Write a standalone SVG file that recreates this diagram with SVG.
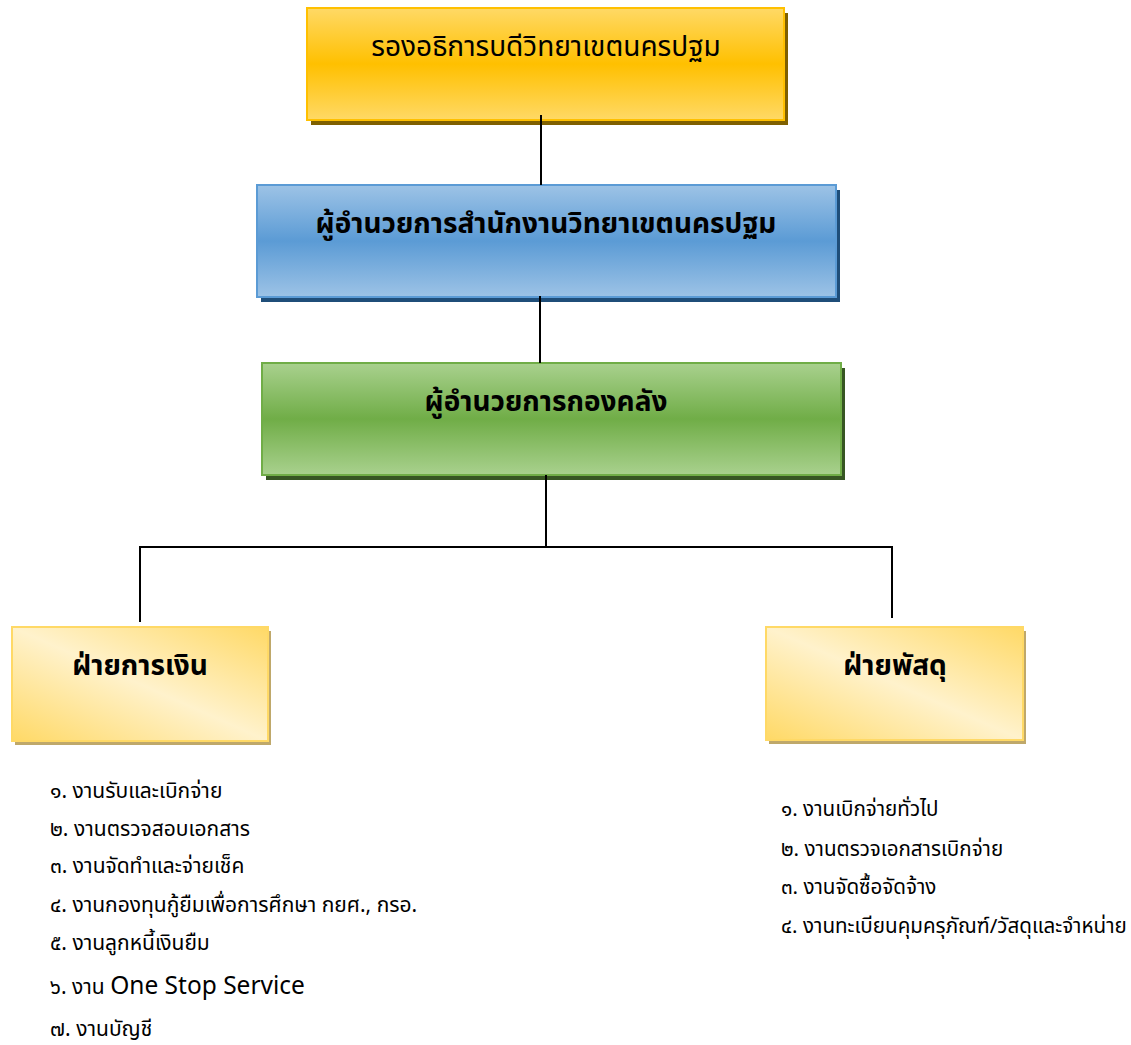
<svg xmlns="http://www.w3.org/2000/svg" width="1131" height="1045" viewBox="0 0 1131 1045">
<style>
.t{font-family:"Noto Sans","Noto Sans Thai","DejaVu Sans",sans-serif;fill:#000}
.h{font-size:28px;text-anchor:middle}
.b{font-weight:bold}
.li{font-size:21px}
.li2{font-size:20.6px}
.con line{stroke:#000;stroke-width:2}
</style>
<defs>
<linearGradient id="gy" x1="0" y1="0" x2="0" y2="1">
<stop offset="0" stop-color="#ffd966"/><stop offset="0.5" stop-color="#ffc000"/><stop offset="1" stop-color="#ffd966"/>
</linearGradient>
<linearGradient id="gb" x1="0" y1="0" x2="0" y2="1">
<stop offset="0" stop-color="#9dc3e6"/><stop offset="0.5" stop-color="#5b9bd5"/><stop offset="1" stop-color="#9dc3e6"/>
</linearGradient>
<linearGradient id="gg" x1="0" y1="0" x2="0" y2="1">
<stop offset="0" stop-color="#a9d18e"/><stop offset="0.5" stop-color="#70ad47"/><stop offset="1" stop-color="#a9d18e"/>
</linearGradient>
<linearGradient id="gc" x1="1" y1="0" x2="0" y2="1">
<stop offset="0" stop-color="#ffd966"/><stop offset="0.5" stop-color="#fff2cc"/><stop offset="1" stop-color="#ffd966"/>
</linearGradient>
</defs>
<g id="n1">
<rect x="311" y="13" width="477" height="112" fill="#7f6000"/>
<rect x="307" y="8" width="477" height="112" fill="url(#gy)" stroke="#ffc000" stroke-width="2"/>
<text class="t h" x="546" y="56">รองอธิการบดีวิทยาเขตนครปฐม</text>
</g>
<g id="n2">
<rect x="261" y="190" width="579" height="112" fill="#1f4e79"/>
<rect x="257" y="185" width="579" height="112" fill="url(#gb)" stroke="#5b9bd5" stroke-width="2"/>
<text class="t h b" x="546" y="233" font-size="28.4">ผู้อำนวยการสำนักงานวิทยาเขตนครปฐม</text>
</g>
<g id="n3">
<rect x="266" y="368" width="579" height="112" fill="#375623"/>
<rect x="262" y="363" width="579" height="112" fill="url(#gg)" stroke="#70ad47" stroke-width="2"/>
<text class="t h b" x="546" y="411">ผู้อำนวยการกองคลัง</text>
</g>
<g id="n4">
<rect x="15" y="631" width="256" height="114" fill="#bfa86a"/>
<rect x="12" y="627" width="256" height="114" fill="url(#gc)" stroke="#ffd966" stroke-width="2"/>
<text class="t h b" x="140" y="675">ฝ่ายการเงิน</text>
</g>
<g id="n5">
<rect x="769" y="631" width="257" height="113" fill="#bfa86a"/>
<rect x="766" y="627" width="257" height="113" fill="url(#gc)" stroke="#ffd966" stroke-width="2"/>
<text class="t h b" x="895" y="675">ฝ่ายพัสดุ</text>
</g>
<g class="con" id="connectors">
<line x1="541" y1="115" x2="541" y2="185"/>
<line x1="540" y1="296" x2="540" y2="363"/>
<line x1="546" y1="475" x2="546" y2="547"/>
<line x1="139" y1="547" x2="892" y2="547"/>
<line x1="140" y1="546" x2="140" y2="622"/>
<line x1="892" y1="546" x2="892" y2="618"/>
</g>
<g id="list1" class="t li">
<text x="50" y="798">๑. งานรับและเบิกจ่าย</text>
<text x="50" y="836">๒. งานตรวจสอบเอกสาร</text>
<text x="50" y="873">๓. งานจัดทำและจ่ายเช็ค</text>
<text x="50" y="912">๔. งานกองทุนกู้ยืมเพื่อการศึกษา กยศ., กรอ.</text>
<text x="50" y="950">๕. งานลูกหนี้เงินยืม</text>
<text x="50" y="994">๖. งาน <tspan font-size="24.5">One Stop Service</tspan></text>
<text x="50" y="1036">๗. งานบัญชี</text>
</g>
<g id="list2" class="t li2">
<text x="781" y="816">๑. งานเบิกจ่ายทั่วไป</text>
<text x="781" y="856">๒. งานตรวจเอกสารเบิกจ่าย</text>
<text x="781" y="894">๓. งานจัดซื้อจัดจ้าง</text>
<text x="781" y="933">๔. งานทะเบียนคุมครุภัณฑ์/วัสดุและจำหน่าย</text>
</g>
</svg>
